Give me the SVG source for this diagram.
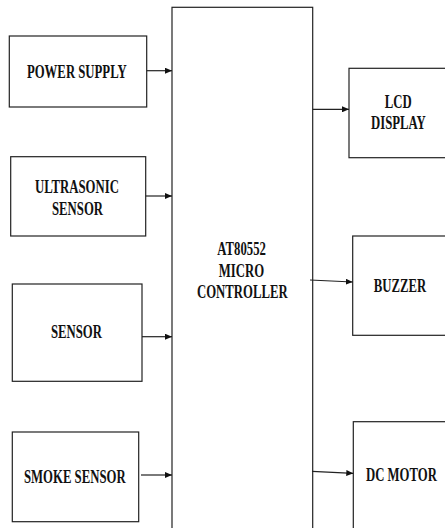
<svg xmlns="http://www.w3.org/2000/svg" width="445" height="528" viewBox="0 0 445 528">
<style>
.box{fill:#fff;stroke:#222;stroke-width:1.2}
.lbl{font-family:"Liberation Serif","Times New Roman",serif;font-weight:bold;font-size:18.5px;fill:#111;text-anchor:middle}
.conn{stroke:#222;stroke-width:1.2;fill:none;marker-end:url(#arr)}
</style>
<defs>
<marker id="arr" markerUnits="userSpaceOnUse" markerWidth="7" markerHeight="6" refX="7" refY="3" orient="auto">
<path d="M0,0 L7,3 L0,6 z" fill="#111"/>
</marker>
</defs>
<rect width="445" height="528" fill="#fff"/>
<g id="power-supply">
<rect class="box" x="9.3" y="36" width="137.4" height="71"/>
<text class="lbl" transform="translate(76.8,78.3) scale(0.69,1)">POWER SUPPLY</text>
</g>
<g id="ultrasonic-sensor">
<rect class="box" x="10.7" y="156.7" width="135" height="79.3"/>
<text class="lbl" transform="translate(77,193.3) scale(0.69,1)">ULTRASONIC</text>
<text class="lbl" transform="translate(77.5,215) scale(0.69,1)">SENSOR</text>
</g>
<g id="sensor">
<rect class="box" x="12.3" y="284" width="129.7" height="97.3"/>
<text class="lbl" transform="translate(76.4,338.3) scale(0.69,1)">SENSOR</text>
</g>
<g id="smoke-sensor">
<rect class="box" x="12.3" y="432" width="126.4" height="89.7"/>
<text class="lbl" transform="translate(74.8,482.7) scale(0.69,1)">SMOKE SENSOR</text>
</g>
<g id="microcontroller">
<rect class="box" x="172" y="7.3" width="140.7" height="530"/>
<text class="lbl" transform="translate(241.6,255) scale(0.69,1)">AT80552</text>
<text class="lbl" transform="translate(241.4,276.7) scale(0.69,1)">MICRO</text>
<text class="lbl" transform="translate(242.3,298.3) scale(0.69,1)">CONTROLLER</text>
</g>
<g id="lcd-display">
<rect class="box" x="349" y="68.3" width="110" height="89.4"/>
<text class="lbl" transform="translate(398.3,108.3) scale(0.69,1)">LCD</text>
<text class="lbl" transform="translate(398.4,129.3) scale(0.69,1)">DISPLAY</text>
</g>
<g id="buzzer">
<rect class="box" x="352.7" y="236" width="110" height="99.3"/>
<text class="lbl" transform="translate(400,291.7) scale(0.69,1)">BUZZER</text>
</g>
<g id="dc-motor">
<rect class="box" x="353.3" y="421.7" width="110" height="120"/>
<text class="lbl" transform="translate(401.4,481) scale(0.69,1)">DC MOTOR</text>
</g>
<g id="connectors">
<line class="conn" x1="146.7" y1="70.7" x2="172" y2="70.7"/>
<line class="conn" x1="145.7" y1="196" x2="172" y2="196"/>
<line class="conn" x1="142" y1="336.7" x2="172" y2="336.7"/>
<line class="conn" x1="141" y1="475" x2="172" y2="475"/>
<line class="conn" x1="312.7" y1="109.3" x2="349" y2="109.3"/>
<line class="conn" x1="310" y1="280" x2="352.7" y2="282"/>
<line class="conn" x1="312" y1="471.3" x2="353.3" y2="473.3"/>
</g>
</svg>
